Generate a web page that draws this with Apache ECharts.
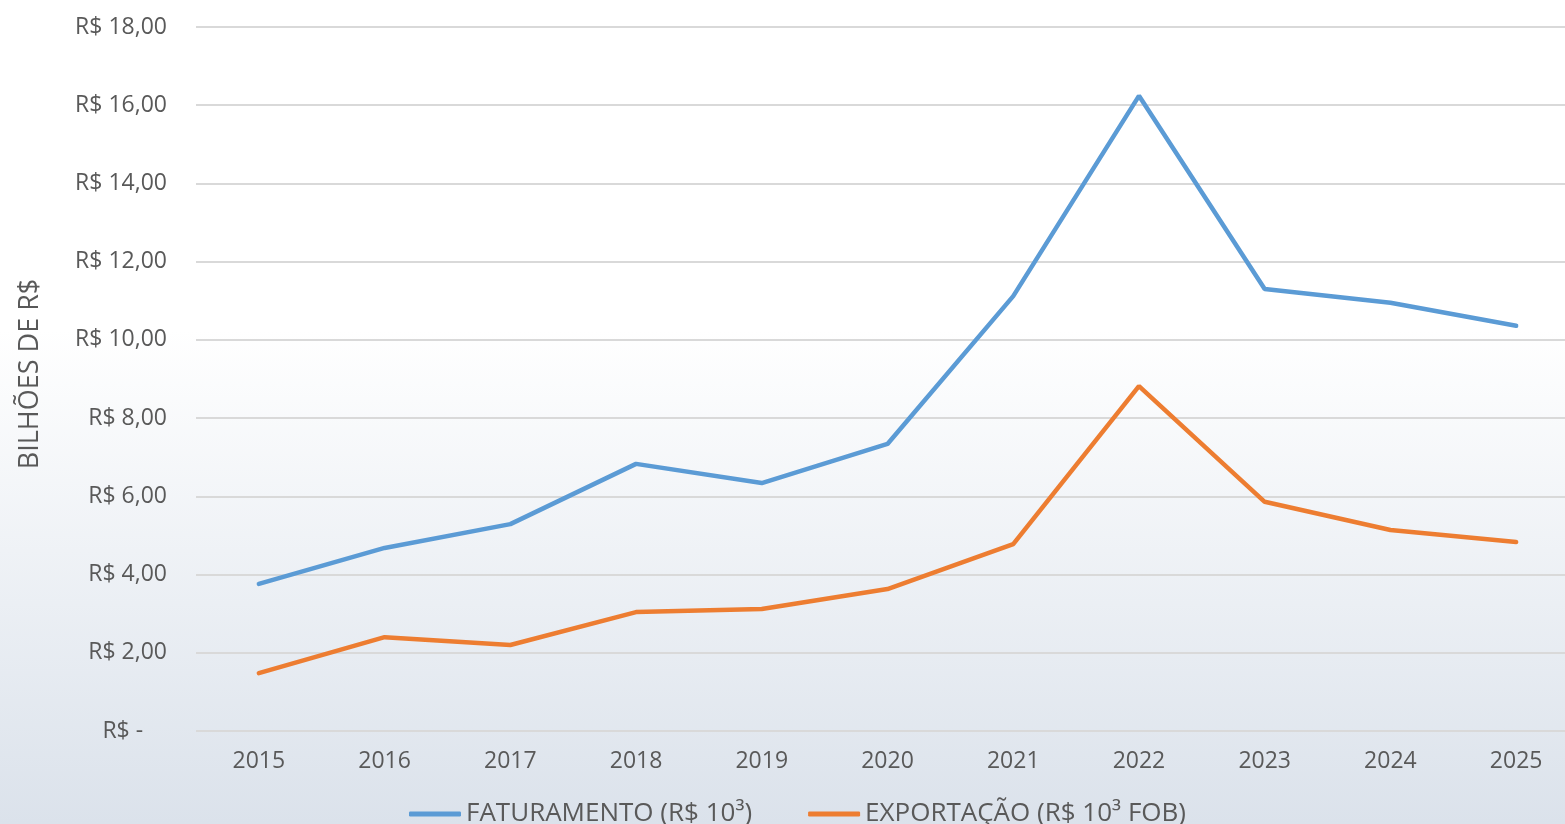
<!DOCTYPE html>
<html><head><meta charset="utf-8">
<script src="https://cdn.jsdelivr.net/npm/echarts@6/dist/echarts.min.js"></script>
<style>html,body{margin:0;padding:0;}#c{width:1565px;height:824px;}</style>
</head><body><div id="c"></div>
<script>
const years = ['2015','2016','2017','2018','2019','2020','2021','2022','2023','2024','2025'];
const faturamento = [3.76, 4.68, 5.29, 6.83, 6.34, 7.34, 11.12, 16.24, 11.30, 10.95, 10.36];
const exportacao = [1.48, 2.40, 2.20, 3.04, 3.12, 3.63, 4.78, 8.82, 5.86, 5.14, 4.83];
const seriesNames = ['FATURAMENTO (R$ 10³)', 'EXPORTAÇÃO (R$ 10³ FOB)'];
const yAxisName = 'BILHÕES DE R$';

const chart = echarts.init(document.getElementById('c'));
const txt = '#595959';
const font = 'Open Sans';
chart.setOption({
  backgroundColor: {type:'linear', x:0, y:0, x2:0, y2:1, colorStops:[
    {offset:0, color:'#ffffff'}, {offset:0.4, color:'#ffffff'}, {offset:1, color:'#dbe2eb'}]},
  animation: false,
  grid: {left:196, width:1383, top:27, height:704, containLabel:false, outerBoundsMode:'none'},
  legend: {
    top: 796, left: 404, itemWidth: 52, itemHeight: 5, itemGap: 56,
    icon: 'roundRect',
    textStyle: {color: txt, fontSize: 26, fontFamily: font},
    data: seriesNames
  },
  xAxis: {
    type:'category', data: years, boundaryGap: true,
    axisLine:{show:false}, axisTick:{show:false},
    axisLabel:{color: txt, fontSize: 23, fontFamily: font, margin: 19}
  },
  yAxis: {
    type:'value', min:0, max:18, interval:2,
    name: yAxisName, nameLocation:'middle', nameGap: 152, nameRotate: 90,
    nameTextStyle:{color: txt, fontSize: 27, fontFamily: font, padding:[0,0,0,10]},
    axisLine:{show:false}, axisTick:{show:false},
    splitLine:{lineStyle:{color:'#d9d9d9', width:2}},
    axisLabel:{color: txt, fontSize: 23, fontFamily: font, margin: 29, padding:[0,0,7,0],
      formatter: v => v === 0 ? 'R$ -    ' : 'R$ ' + v.toFixed(2).replace('.', ',')}
  },
  series: [
    {name: seriesNames[0], type:'line', data: faturamento, symbol:'none',
     lineStyle:{color:'#5b9bd5', width:4.5, cap:'round'}, itemStyle:{color:'#5b9bd5'}},
    {name: seriesNames[1], type:'line', data: exportacao, symbol:'none',
     lineStyle:{color:'#ed7d31', width:4.5, cap:'round'}, itemStyle:{color:'#ed7d31'}}
  ]
});
</script></body></html>
